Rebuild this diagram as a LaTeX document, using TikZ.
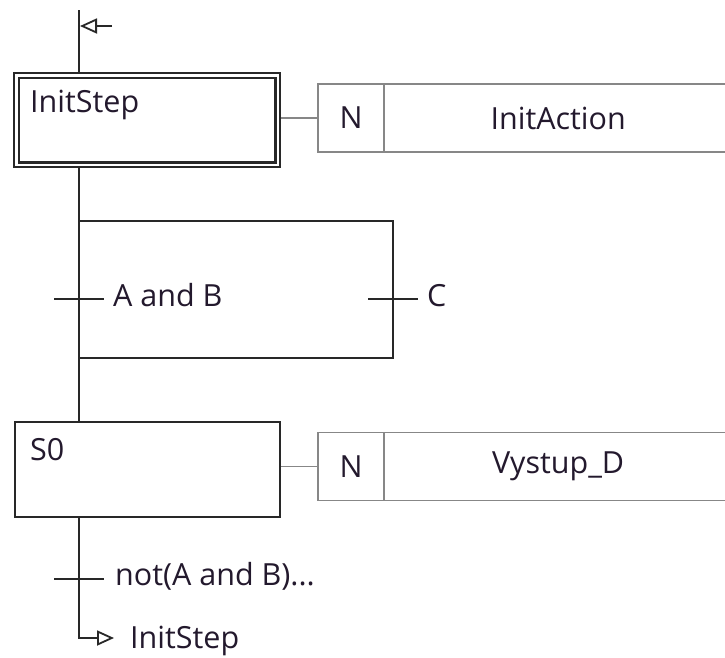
\documentclass[tikz,border=0pt]{standalone}
\usepackage{fontspec}
\setmainfont{Open Sans}
\usepackage{tikz}
\usetikzlibrary{arrows.meta,positioning,calc}
\usepackage{xcolor}
\definecolor{sfcline}{RGB}{40,40,40}
\definecolor{sfcgray}{RGB}{135,135,135}
\definecolor{sfctext}{RGB}{35,25,45}
\newcommand{\sfcfont}{\fontsize{30.5}{36}\selectfont}
\tikzset{
  stepbox/.style={draw=sfcline, line width=2.2pt, minimum width=265pt, minimum height=95pt, inner sep=0pt},
  initbox/.style={stepbox, double=white, double distance=2.5pt, minimum width=261.5pt, minimum height=89.5pt, outer sep=3.4pt},
  qualbox/.style={draw=sfcgray, line width=1.6pt, minimum width=66pt, minimum height=68pt, inner sep=0pt, outer sep=0pt},
  actbox/.style={qualbox, minimum width=348pt},
  bar/.style={draw=sfcline, line width=2.2pt},
  flow/.style={draw=sfcline, line width=2.2pt},
  link/.style={draw=sfcgray, line width=1.6pt},
  jump/.style={flow, -{Triangle[open, length=17pt, width=15pt, line width=1.8pt]}},
  cond/.style={anchor=base west, inner sep=0pt},
}

\begin{document}
\begin{tikzpicture}[x=1pt, y=-1pt, font=\sfcfont, text=sfctext]
\useasboundingbox (0,0) rectangle (725,657);

% Steps with their actions
\node[initbox] (init) at (147,120) {};
\node[cond] (initname) at (30,112) {InitStep};
\node[qualbox, right=37pt of init, yshift=2pt] (initN) {N};
\node[actbox, right=0pt of initN] (initact) {InitAction};

\node[stepbox] (s0) at (147.5,469.5) {};
\node[cond] (s0name) at (30,460) {S0};
\node[qualbox, right=37pt of s0, yshift=3pt] (s0N) {N};
\node[actbox, right=0pt of s0N] (s0act) {Vystup\_D};

\draw[link] (initN.west -| init.east) -- (initN.west);
\draw[link] (s0N.west -| s0.east) -- (s0N.west);

% Flow line and alternative branch
\coordinate (entry) at (79,10);
\coordinate (brtop) at (393,221);
\coordinate (brbot) at (393,358);
\coordinate (t1) at (79,299);
\coordinate (t2) at (393,299);
\coordinate (t3) at (79,579);
\coordinate (corner) at (79,638);
\coordinate (back) at (114,638);
\coordinate (initsrc) at (112,26);

\draw[flow] (entry) -- (entry |- init.north);
\draw[flow] (init.south -| entry) -- (s0.north -| entry);
\draw[flow] (brtop -| entry) -- (brtop) -- (brbot) -- (brbot -| entry);
\draw[jump] (initsrc) -- ([xshift=1pt]entry |- initsrc);
\draw[jump] (s0.south -| entry) -- (corner) -- (back);

% Transitions
\foreach \t in {t1,t2,t3} {
    \draw[bar] ([xshift=-25pt]\t) -- ([xshift=25pt]\t);
}
\node[cond] (condAB) at (113,306) {A and B};
\node[cond] (condC) at (427,306) {C};
\node[cond] (condnot) at (115,585) {not(A and B)...};
\node[cond] (backname) at (130,648) {InitStep};
\end{tikzpicture}
\end{document}
